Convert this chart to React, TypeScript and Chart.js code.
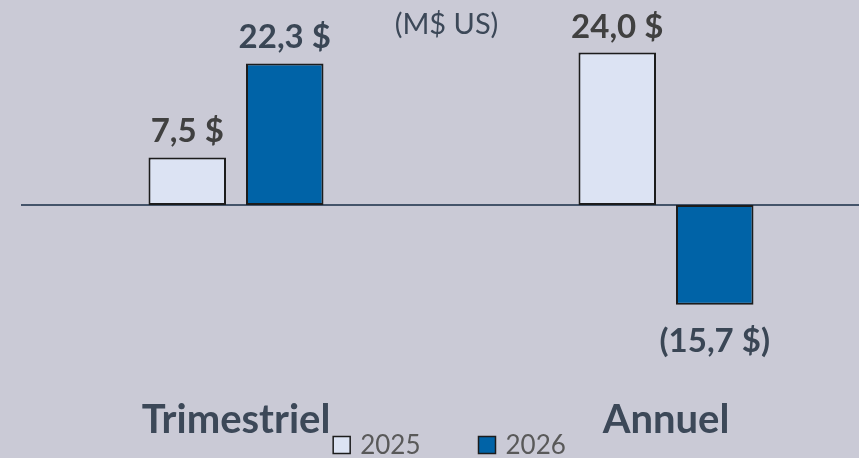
import React, { useEffect, useRef } from "react";
import { Chart, registerables } from "chart.js";

Chart.register(...registerables);

const categories = ["Trimestriel", "Annuel"];
const seriesNames = ["2025", "2026"];
const values2025 = [7.5, 24.0];
const values2026 = [22.3, -15.7];
const unitTitle = "(M$ US)";

const BG = "#cacad6";
const FILL_2025 = "#dce3f3";
const FILL_2026 = "#0063a7";
const BORDER = "#1c1c1c";
const LABEL_COLORS = ["#404040", "#3a4655"];
const AXIS_TEXT = "#3c4858";
const FONT = "Lato, 'Noto Sans', sans-serif";

function fmt(v: number): string {
  const s = Math.abs(v).toFixed(1).replace(".", ",");
  return v < 0 ? `(${s} $)` : `${s} $`;
}

const overlayPlugin = {
  id: "overlay",
  beforeDatasetsDraw(chart: any) {
    const { ctx, chartArea, scales } = chart;
    const y0 = scales.y.getPixelForValue(0);
    ctx.save();
    ctx.strokeStyle = "#44546a";
    ctx.lineWidth = 2;
    ctx.beginPath();
    ctx.moveTo(chartArea.left, y0);
    ctx.lineTo(chartArea.right, y0);
    ctx.stroke();
    ctx.restore();
  },
  afterDatasetsDraw(chart: any) {
    const { ctx } = chart;
    // unit title
    ctx.save();
    ctx.font = `29px ${FONT}`;
    ctx.fillStyle = AXIS_TEXT;
    ctx.textAlign = "center";
    ctx.textBaseline = "middle";
    ctx.fillText(unitTitle, 446.5, 25);
    ctx.restore();

    // data labels
    ctx.save();
    ctx.font = `bold 33px ${FONT}`;
    ctx.textAlign = "center";
    ctx.textBaseline = "alphabetic";
    chart.data.datasets.forEach((ds: any, di: number) => {
      const meta = chart.getDatasetMeta(di);
      meta.data.forEach((el: any, i: number) => {
        const v = ds.data[i] as number;
        ctx.fillStyle = LABEL_COLORS[di];
        const y = v >= 0 ? el.y - 15 : el.y + 47;
        ctx.fillText(fmt(v), el.x, y);
      });
    });
    ctx.restore();

    // legend
    ctx.save();
    ctx.font = `26px ${FONT}`;
    ctx.textBaseline = "middle";
    ctx.textAlign = "left";
    const box = 17;
    const gapBoxText = 10;
    const gapItems = 58;
    const items = chart.data.datasets.map((ds: any) => ({
      text: ds.label,
      fill: ds.backgroundColor,
      w: ctx.measureText(ds.label).width,
    }));
    const total =
      items.reduce((a: number, it: any) => a + box + gapBoxText + it.w, 0) +
      gapItems * (items.length - 1);
    let x = 449.5 - total / 2;
    const cy = 445;
    items.forEach((it: any) => {
      ctx.fillStyle = it.fill;
      ctx.fillRect(x, cy - box / 2, box, box);
      ctx.strokeStyle = BORDER;
      ctx.lineWidth = 1.5;
      ctx.strokeRect(x, cy - box / 2, box, box);
      ctx.fillStyle = "#595959";
      ctx.fillText(it.text, x + box + gapBoxText, cy + 1);
      x += box + gapBoxText + it.w + gapItems;
    });
    ctx.restore();
  },
};

export default function App() {
  const ref = useRef<HTMLCanvasElement | null>(null);
  useEffect(() => {
    if (!ref.current) return;
    const chart = new Chart(ref.current, {
      type: "bar",
      data: {
        labels: categories,
        datasets: [
          {
            label: seriesNames[0],
            data: values2025,
            backgroundColor: FILL_2025,
            borderColor: BORDER,
            borderWidth: 2,
            borderSkipped: false,
            categoryPercentage: 0.4535,
            barPercentage: 0.795,
          },
          {
            label: seriesNames[1],
            data: values2026,
            backgroundColor: FILL_2026,
            borderColor: BORDER,
            borderWidth: 2,
            borderSkipped: false,
            categoryPercentage: 0.4535,
            barPercentage: 0.795,
          },
        ],
      },
      options: {
        responsive: false,
        animation: false,
        layout: { padding: { left: 21, right: 11, top: 0, bottom: 0 } },
        plugins: {
          legend: { display: false },
          tooltip: { enabled: false },
          title: { display: false },
        },
        scales: {
          x: {
            grid: { display: false, drawTicks: false },
            border: { display: false },
            ticks: {
              color: AXIS_TEXT,
              font: { family: FONT, size: 40, weight: "bold" },
              padding: 15,
              maxRotation: 0,
            },
          },
          y: {
            display: false,
            min: -27.69,
            max: 32.28,
          },
        },
      },
      plugins: [overlayPlugin],
    });
    return () => chart.destroy();
  }, []);
  return (
    <div
      style={{
        position: "fixed",
        left: 0,
        top: 0,
        width: 859,
        height: 458,
        overflow: "hidden",
        background: BG,
      }}
    >
      <canvas ref={ref} width={892} height={459} style={{ display: "block" }} />
    </div>
  );
}
